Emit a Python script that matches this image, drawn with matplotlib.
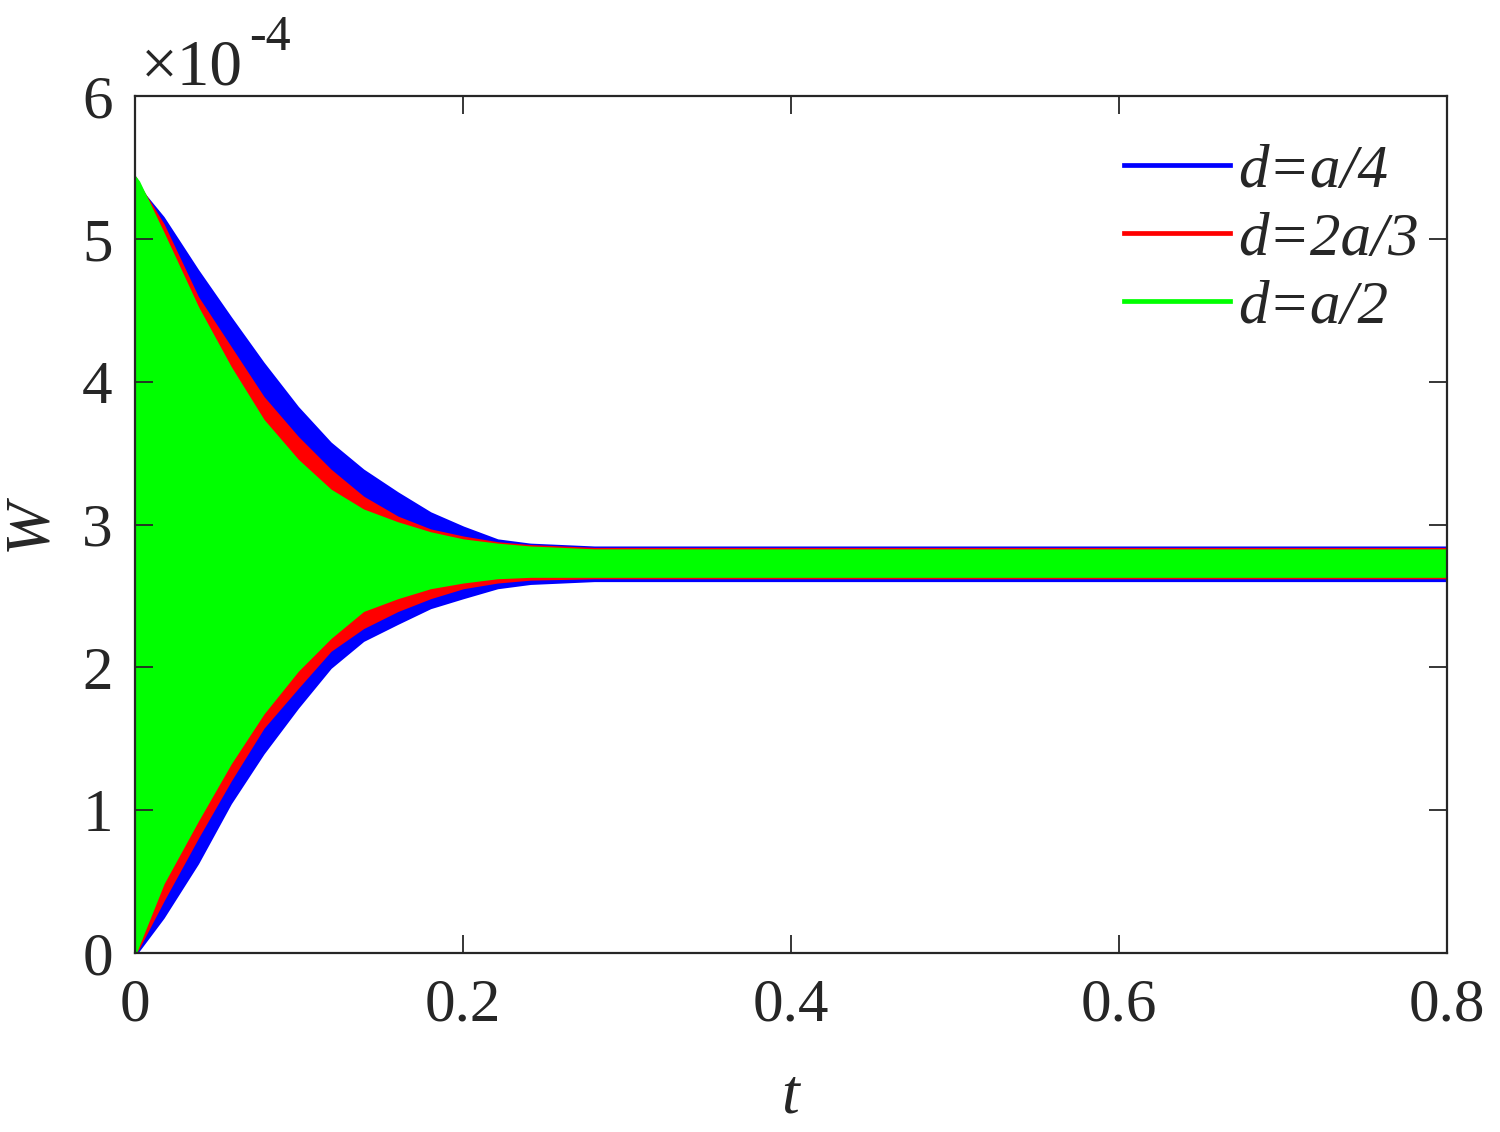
import numpy as np
import matplotlib
matplotlib.use("Agg")
from matplotlib import pyplot as plt

# envelope of the oscillation W(t) (units of 1e-4)
t = [0, 0.002, 0.017, 0.038, 0.058, 0.078, 0.099, 0.119, 0.139, 0.160,
     0.180, 0.200, 0.221, 0.241, 0.28, 0.8]

blue_upper = [5.43, 5.36, 5.15, 4.78, 4.45, 4.13, 3.82, 3.57, 3.38, 3.22,
              3.08, 2.98, 2.89, 2.86, 2.84, 2.84]
blue_lower = [0, 0.02, 0.25, 0.63, 1.05, 1.40, 1.72, 2.00, 2.19, 2.31,
              2.42, 2.49, 2.56, 2.59, 2.61, 2.61]
red_upper = [5.43, 5.38, 5.10, 4.59, 4.24, 3.89, 3.61, 3.38, 3.19, 3.05,
             2.96, 2.91, 2.87, 2.85, 2.83, 2.83]
red_lower = [0, 0.04, 0.37, 0.81, 1.21, 1.58, 1.86, 2.12, 2.28, 2.40,
             2.49, 2.56, 2.60, 2.62, 2.63, 2.63]
green_upper = [5.43, 5.40, 5.04, 4.52, 4.10, 3.73, 3.45, 3.24, 3.10, 3.01,
               2.94, 2.89, 2.86, 2.84, 2.82, 2.82]
green_lower = [0, 0.06, 0.49, 0.93, 1.33, 1.68, 1.98, 2.21, 2.40, 2.49,
               2.56, 2.60, 2.63, 2.64, 2.64, 2.64]

labels = ["d=a/4", "d=2a/3", "d=a/2"]
colors = ["#0000ff", "#ff0000", "#00ff00"]

plt.rcParams["font.family"] = ["Liberation Serif", "DejaVu Serif"]

fig = plt.figure(figsize=(15, 11.32), dpi=100)
ax = fig.add_axes([0.09, 0.1581, 0.8747, 0.7571])

series = [(blue_upper, blue_lower), (red_upper, red_lower), (green_upper, green_lower)]
for (up, lo), c, lab in zip(series, colors, labels):
    ax.fill_between(t, lo, up, color=c, linewidth=2.0, edgecolor=c)
    ax.plot([], [], color=c, linewidth=3.4, label=lab)

ax.set_xlim(0, 0.8)
ax.set_ylim(0, 6)
ax.set_xticks([0, 0.2, 0.4, 0.6, 0.8])
ax.set_xticklabels(["0", "0.2", "0.4", "0.6", "0.8"])
ax.set_yticks([0, 1, 2, 3, 4, 5, 6])

ax.tick_params(direction="in", length=13, width=1.3, labelsize=44,
               top=True, right=True, color="#262626", labelcolor="#262626")
ax.tick_params(axis="x", pad=18)
ax.tick_params(axis="y", pad=16)
for s in ax.spines.values():
    s.set_linewidth(1.6)
    s.set_color("#262626")

ax.set_xlabel("t", fontsize=46, style="italic", color="#262626")
ax.set_ylabel("W", fontsize=46, style="italic", color="#262626")
ax.xaxis.set_label_coords(0.4993, -0.135)
ax.yaxis.set_label_coords(-0.058, 0.5)

# exponent label like matlab
fig.text(0.094, 0.925, "\u00d710", fontsize=47, color="#262626", ha="left", va="baseline")
fig.text(0.166, 0.956, "-4", fontsize=36, color="#262626", ha="left", va="baseline")

leg = ax.legend(loc="upper right", frameon=False,
                prop={"style": "italic", "size": 44},
                handlelength=1.74, handletextpad=0.13, labelspacing=0.2,
                bbox_to_anchor=(1.011, 0.994), borderaxespad=0.3)
for txt in leg.get_texts():
    txt.set_color("#262626")

plt.savefig("out.png", dpi=100)
